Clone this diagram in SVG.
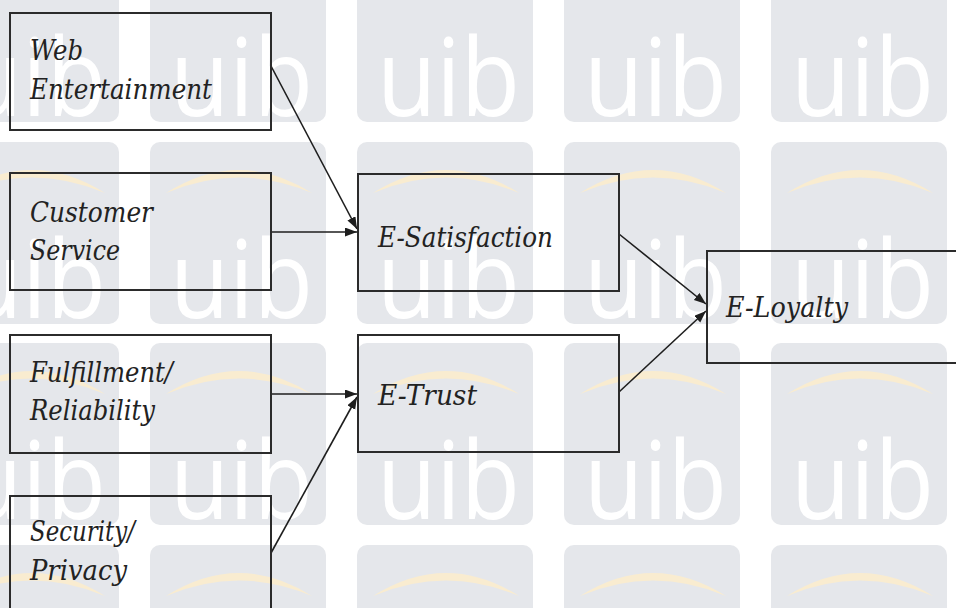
<svg xmlns="http://www.w3.org/2000/svg" width="956" height="608" viewBox="0 0 956 608">
  <defs>
    <style>
      .tile { fill: #e5e7eb; }
      .arc { fill: #f9ecd0; }
      .mark { fill: #ffffff; }
      .box { fill: none; stroke: #2b2b2b; stroke-width: 2; }
      .lbl { fill: #222222; font-family: "DejaVu Serif", "Noto Serif", "Liberation Serif", serif; font-size: 27px; font-style: italic; }
      .edge { fill: none; stroke: #1e1e1e; stroke-width: 1.6; marker-end: url(#head); }
    </style>
    <marker id="head" markerUnits="userSpaceOnUse" markerWidth="13" markerHeight="10" refX="12" refY="4.5" orient="auto">
      <path d="M0,0 L12,4.5 L0,9 Z" fill="#1e1e1e"/>
    </marker>
    <!-- one background badge: rounded tile, crescent, lettering -->
    <g id="badge">
      <rect class="tile" x="0" y="0" width="176" height="182" rx="10"/>
      <path class="arc" d="M16,51 Q89,5 162,51 Q89,20 16,51 Z"/>
      <text class="mark" x="20" y="176" font-family="Open Sans, Lato, sans-serif" font-size="108" textLength="143" lengthAdjust="spacingAndGlyphs">uib</text>
    </g>
  </defs>

  <rect width="956" height="608" fill="#ffffff"/>

  <!-- background badge grid -->
  <g id="background">
    <use href="#badge" x="-57" y="-60"/><use href="#badge" x="150" y="-60"/><use href="#badge" x="357" y="-60"/><use href="#badge" x="564" y="-60"/><use href="#badge" x="771" y="-60"/>
    <use href="#badge" x="-57" y="142"/><use href="#badge" x="150" y="142"/><use href="#badge" x="357" y="142"/><use href="#badge" x="564" y="142"/><use href="#badge" x="771" y="142"/>
    <use href="#badge" x="-57" y="343"/><use href="#badge" x="150" y="343"/><use href="#badge" x="357" y="343"/><use href="#badge" x="564" y="343"/><use href="#badge" x="771" y="343"/>
    <use href="#badge" x="-57" y="545"/><use href="#badge" x="150" y="545"/><use href="#badge" x="357" y="545"/><use href="#badge" x="564" y="545"/><use href="#badge" x="771" y="545"/>
  </g>

  <!-- connectors -->
  <g id="connectors">
    <line class="edge" x1="271" y1="66" x2="357" y2="229"/>
    <line class="edge" x1="271" y1="232" x2="357" y2="232"/>
    <line class="edge" x1="271" y1="394" x2="357" y2="394"/>
    <line class="edge" x1="271" y1="553" x2="357" y2="397"/>
    <line class="edge" x1="619" y1="234" x2="706" y2="304"/>
    <line class="edge" x1="619" y1="392" x2="706" y2="311"/>
  </g>

  <!-- nodes -->
  <g id="web-entertainment">
    <rect class="box" x="10" y="13" width="261" height="117"/>
    <text class="lbl" x="30" y="60" textLength="53" lengthAdjust="spacingAndGlyphs">Web</text>
    <text class="lbl" x="30" y="99" textLength="182" lengthAdjust="spacingAndGlyphs">Entertainment</text>
  </g>
  <g id="customer-service">
    <rect class="box" x="10" y="173" width="261" height="117"/>
    <text class="lbl" x="30" y="222" textLength="123" lengthAdjust="spacingAndGlyphs">Customer</text>
    <text class="lbl" x="30" y="260" textLength="90" lengthAdjust="spacingAndGlyphs">Service</text>
  </g>
  <g id="fulfillment-reliability">
    <rect class="box" x="10" y="335" width="261" height="118"/>
    <text class="lbl" x="30" y="382" textLength="143" lengthAdjust="spacingAndGlyphs">Fulfillment/</text>
    <text class="lbl" x="30" y="420" textLength="125" lengthAdjust="spacingAndGlyphs">Reliability</text>
  </g>
  <g id="security-privacy">
    <rect class="box" x="10" y="496" width="261" height="130"/>
    <text class="lbl" x="30" y="541" textLength="105" lengthAdjust="spacingAndGlyphs">Security/</text>
    <text class="lbl" x="30" y="580" textLength="97" lengthAdjust="spacingAndGlyphs">Privacy</text>
  </g>
  <g id="e-satisfaction">
    <rect class="box" x="358" y="174" width="261" height="117"/>
    <text class="lbl" x="378" y="247" textLength="175" lengthAdjust="spacingAndGlyphs">E-Satisfaction</text>
  </g>
  <g id="e-trust">
    <rect class="box" x="358" y="335" width="261" height="117"/>
    <text class="lbl" x="378" y="405" textLength="99" lengthAdjust="spacingAndGlyphs">E-Trust</text>
  </g>
  <g id="e-loyalty">
    <rect class="box" x="707" y="251" width="270" height="112"/>
    <text class="lbl" x="726" y="317" textLength="122" lengthAdjust="spacingAndGlyphs">E-Loyalty</text>
  </g>
</svg>
